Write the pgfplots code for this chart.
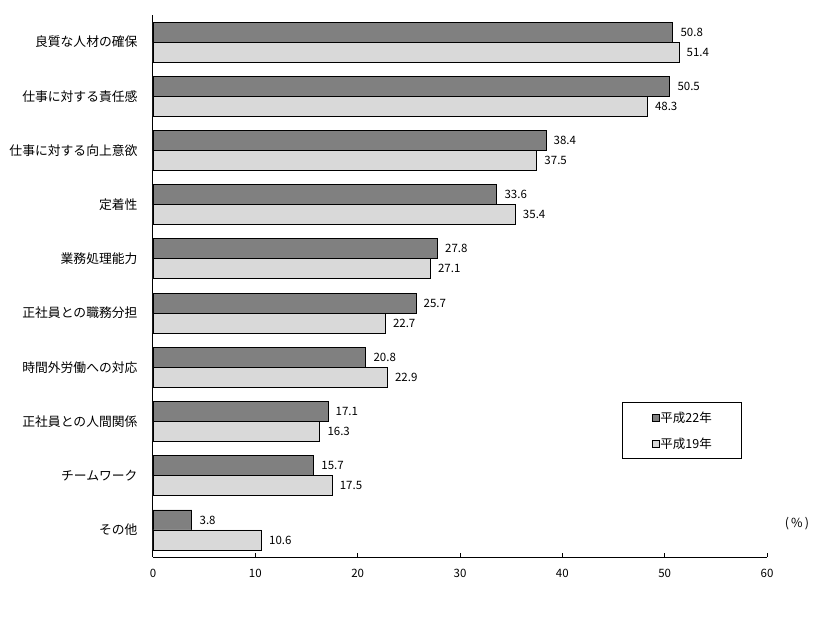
\documentclass[border=0pt]{standalone}
\usepackage{pgfplots}
\pgfplotsset{compat=1.18}
\usetikzlibrary{calc}
\usepackage{fontspec}
\setmainfont{Noto Sans CJK JP}
\definecolor{dark}{HTML}{808080}
\definecolor{light}{HTML}{D9D9D9}
\begin{document}
\begin{tikzpicture}[x=1pt,y=1pt]
\begin{axis}[
  name=ax,
  scale only axis, width=614pt, height=542pt,
  xmin=0, xmax=60, ymin=-0.5, ymax=9.5,
  /pgf/number format/assume math mode=true,
  xbar, bar width=20pt,
  axis x line*=bottom, axis y line*=left,
  axis line style={line width=1pt, -},
  xtick={0,10,...,60}, tick align=inside, major tick length=4pt,
  x tick style={line width=1pt, black},
  ytick={0,...,9},
  yticklabels={その他,チームワーク,正社員との人間関係,時間外労働への対応,正社員との職務分担,業務処理能力,定着性,仕事に対する向上意欲,仕事に対する責任感,良質な人材の確保},
  y tick style={draw=none},
  yticklabel style={font=\fontsize{12.8}{15}\selectfont, xshift=-12pt},
  xticklabel style={font=\fontsize{11.5}{14}\selectfont, yshift=-9pt},
  point meta=x,
  nodes near coords={\pgfmathprintnumber[fixed,fixed zerofill,precision=1,assume math mode=true]{\pgfplotspointmeta}},
  nodes near coords style={font=\fontsize{11.5}{14}\selectfont, anchor=west, xshift=4pt},
  legend style={at={(0.764,0.286)}, anchor=north west, draw=black, line width=1pt,
    inner xsep=29pt, inner ysep=8pt, row sep=12pt,
    font=\fontsize{12.5}{15}\selectfont,
    nodes={inner sep=1pt}},
  legend cell align=left,
  legend image code/.code={\draw[#1, line width=0.8pt, draw=black] (0pt,-3.5pt) rectangle (7pt,3.5pt);},
]
\addplot[fill=dark, draw=black, line width=0.8pt, bar shift=10pt] coordinates {
(50.8,9) (50.5,8) (38.4,7) (33.6,6) (27.8,5) (25.7,4) (20.8,3) (17.1,2) (15.7,1) (3.8,0)};
\addplot[fill=light, draw=black, line width=0.8pt, bar shift=-10pt] coordinates {
(51.4,9) (48.3,8) (37.5,7) (35.4,6) (27.1,5) (22.7,4) (22.9,3) (16.3,2) (17.5,1) (10.6,0)};
\legend{平成22年,平成19年}
\end{axis}
\pgfresetboundingbox
\path[use as bounding box] ($(ax.south west)+(-153,-67)$) rectangle ($(ax.south west)+(666,557)$);
\node[font=\fontsize{12.5}{15}\selectfont] at ($(ax.south west)+(644,33)$) {(\,\%\,)};
\end{tikzpicture}
\end{document}
